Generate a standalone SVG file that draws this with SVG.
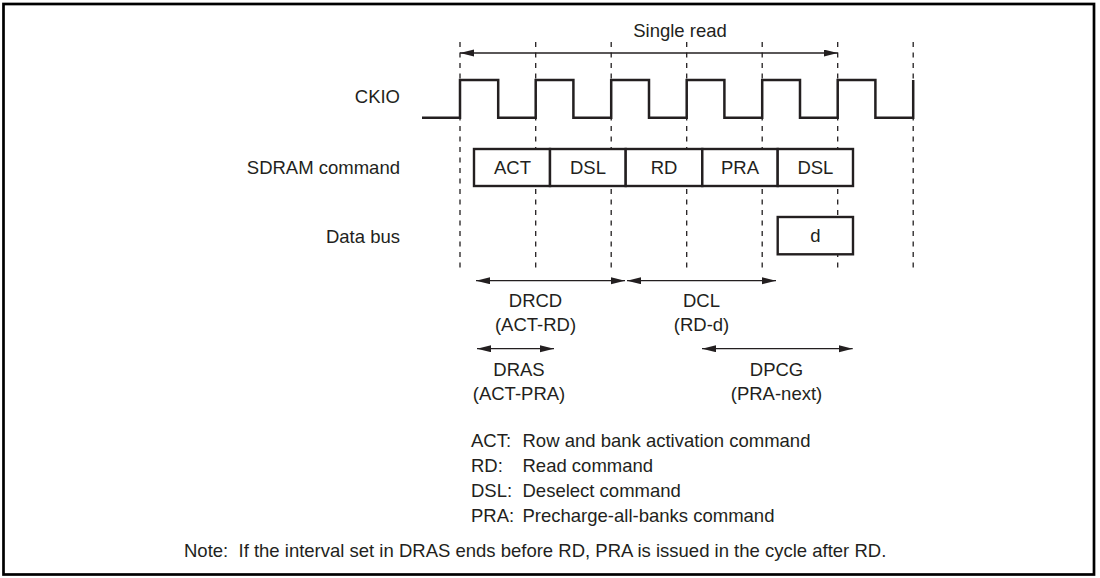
<svg xmlns="http://www.w3.org/2000/svg" width="1100" height="578" viewBox="0 0 1100 578">
<style>
  text { font-family: "Liberation Sans", Arial, Helvetica, sans-serif; font-size: 18.5px; fill: #231f20; }
  .c { text-anchor: middle; }
  .r { text-anchor: end; }
  .dash { stroke: #231f20; stroke-width: 1.3; stroke-dasharray: 5 5.5; fill: none; }
  .box { fill: #ffffff; stroke: #231f20; stroke-width: 2.4; }
  .sig { fill: none; stroke: #231f20; stroke-width: 2.5; }
  .arr { stroke: #231f20; stroke-width: 1.3; fill: none; marker-start: url(#ah); marker-end: url(#ah); }
</style>
<defs>
  <marker id="ah" markerUnits="userSpaceOnUse" markerWidth="15" markerHeight="8" refX="14" refY="3.5" orient="auto-start-reverse">
    <path d="M0,0 L14,3.5 L0,7 Z" fill="#231f20"/>
  </marker>
</defs>
<rect x="0" y="0" width="1100" height="578" fill="#ffffff"/>
<rect id="frame" x="3.5" y="4" width="1090.5" height="570.5" fill="none" stroke="#000000" stroke-width="2.7"/>

<g id="gridlines">
  <line class="dash" x1="460" y1="42" x2="460" y2="271"/>
  <line class="dash" x1="535.7" y1="42" x2="535.7" y2="271"/>
  <line class="dash" x1="611.2" y1="42" x2="611.2" y2="271"/>
  <line class="dash" x1="686.7" y1="42" x2="686.7" y2="271"/>
  <line class="dash" x1="762.2" y1="42" x2="762.2" y2="271"/>
  <line class="dash" x1="837.7" y1="42" x2="837.7" y2="271"/>
  <line class="dash" x1="913.2" y1="42" x2="913.2" y2="271"/>
</g>

<g id="labels">
  <text x="680" y="37" class="c">Single read</text>
  <text x="400" y="103" class="r">CKIO</text>
  <text x="400" y="174" class="r">SDRAM command</text>
  <text x="400" y="243" class="r">Data bus</text>
</g>

<g id="ckio">
  <path class="sig" d="M422,117.7 H460 V80 H498.2 V117.7 H535.7 V80 H573.4 V117.7 H611.2 V80 H649 V117.7 H686.7 V80 H724.4 V117.7 H762.2 V80 H800 V117.7 H837.7 V80 H875.4 V117.7 H913.2 V80"/>
</g>

<g id="cmd-act"><rect class="box" x="474" y="149" width="76" height="37"/><text x="512.5" y="174" class="c">ACT</text></g>
<g id="cmd-dsl1"><rect class="box" x="550" y="149" width="75.7" height="37"/><text x="588" y="174" class="c">DSL</text></g>
<g id="cmd-rd"><rect class="box" x="625.7" y="149" width="76.6" height="37"/><text x="664" y="174" class="c">RD</text></g>
<g id="cmd-pra"><rect class="box" x="702.3" y="149" width="75.4" height="37"/><text x="740" y="174" class="c">PRA</text></g>
<g id="cmd-dsl2"><rect class="box" x="777.7" y="149" width="75.3" height="37"/><text x="815.4" y="174" class="c">DSL</text></g>
<g id="data-d"><rect class="box" x="777.7" y="217" width="75.3" height="37.3"/><text x="815.4" y="242" class="c">d</text></g>

<g id="connectors">
  <line class="arr" x1="460" y1="53" x2="837.7" y2="53"/>
  <line class="arr" x1="476" y1="280.7" x2="625" y2="280.7"/>
  <line class="arr" x1="627" y1="280.7" x2="776" y2="280.7"/>
  <line class="arr" x1="477" y1="348.7" x2="554" y2="348.7"/>
  <line class="arr" x1="702" y1="348.7" x2="852.7" y2="348.7"/>
</g>

<g id="timing-labels">
  <text x="535.5" y="307" class="c">DRCD</text>
  <text x="535.5" y="331" class="c">(ACT-RD)</text>
  <text x="701.5" y="307" class="c">DCL</text>
  <text x="701.5" y="331" class="c">(RD-d)</text>
  <text x="519" y="376" class="c">DRAS</text>
  <text x="519" y="400" class="c">(ACT-PRA)</text>
  <text x="776.5" y="376" class="c">DPCG</text>
  <text x="776.5" y="400" class="c">(PRA-next)</text>
</g>

<g id="legend">
  <text x="471" y="447">ACT:</text><text x="522.5" y="447">Row and bank activation command</text>
  <text x="471" y="472">RD:</text><text x="522.5" y="472">Read command</text>
  <text x="471" y="497">DSL:</text><text x="522.5" y="497">Deselect command</text>
  <text x="471" y="522">PRA:</text><text x="522.5" y="522">Precharge-all-banks command</text>
</g>

<g id="note">
  <text x="184" y="557" xml:space="preserve">Note:  If the interval set in DRAS ends before RD, PRA is issued in the cycle after RD.</text>
</g>
</svg>
